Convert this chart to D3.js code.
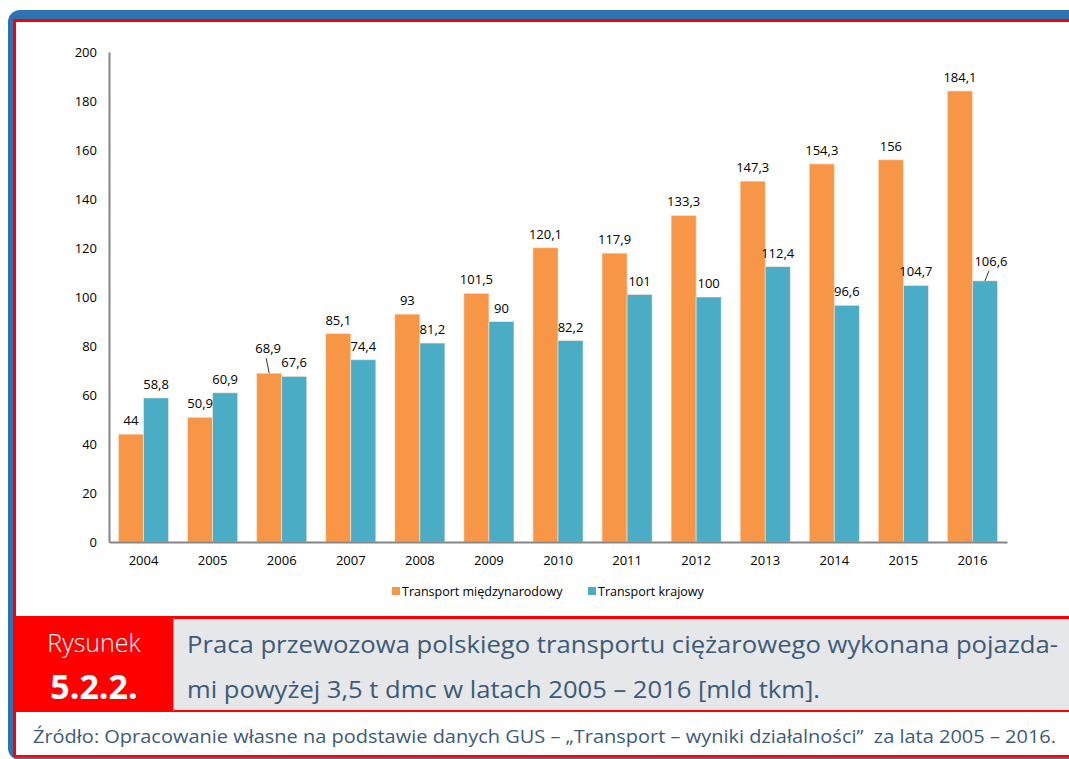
<!DOCTYPE html>
<html>
  <head>
    <meta charset="UTF-8">
    <style>
      body { margin: 0; background: #fff; }
      svg { display: block; }
      .tick text { font: 13px "Open Sans", sans-serif; fill: #000; }
      .lbl { font: 13px "Open Sans", sans-serif; fill: #000; text-anchor: middle; }
      .legend text { font: 12.5px "Open Sans", sans-serif; fill: #000; }
      .cap { font-family: "Open Sans", sans-serif; }
    </style>
    <script src="https://d3js.org/d3.v7.min.js"></script>
  </head>
  <body>
    <script type="text/javascript">
      // chart data
      var years = ["2004", "2005", "2006", "2007", "2008", "2009", "2010", "2011", "2012", "2013", "2014", "2015", "2016"];
      var seriesNames = ["Transport międzynarodowy", "Transport krajowy"];
      var intl = [44, 50.9, 68.9, 85.1, 93, 101.5, 120.1, 117.9, 133.3, 147.3, 154.3, 156, 184.1];
      var domestic = [58.8, 60.9, 67.6, 74.4, 81.2, 90, 82.2, 101, 100, 112.4, 96.6, 104.7, 106.6];
      var yTicks = [0, 20, 40, 60, 80, 100, 120, 140, 160, 180, 200];
      // labels moved off the bar with a leader line: [series index, year]
      var leaderLabels = [[0, "2006"], [1, "2016"]];

      var colors = ["#F79646", "#4BACC6"];
      var frameBlue = "#2E72B4", red = "#FF0000", capText = "#3C5B79";

      var width = 1069, height = 759;
      var svg = d3.select("body").append("svg")
        .attr("width", width)
        .attr("height", height);

      // frame: blue rounded border, red inner line, white page
      svg.append("rect").attr("x", 8).attr("y", 10).attr("width", 1100).attr("height", 750)
        .attr("rx", 12).attr("fill", frameBlue);
      svg.append("rect").attr("x", 13).attr("y", 19).attr("width", 1100).attr("height", 738)
        .attr("fill", red);
      svg.append("rect").attr("x", 16).attr("y", 22).attr("width", 1100).attr("height", 733)
        .attr("fill", "#fff");

      // scales
      var x0 = d3.scaleBand().domain(years).range([109, 1007]).paddingInner(0.275).paddingOuter(0.1375);
      var x1 = d3.scaleBand().domain([0, 1]).range([0, x0.bandwidth()]);
      var y = d3.scaleLinear().domain([0, 200]).range([542, 52]);

      var fmt = d3.formatLocale({decimal: ",", thousands: " ", grouping: [3], currency: ["", " zł"]}).format("~f");

      var g = svg.append("g");

      // bars
      var table = years.map(function(yr, i) { return {year: yr, values: [intl[i], domestic[i]]}; });
      var grp = g.selectAll(".yr").data(table).enter().append("g")
        .attr("transform", function(d) { return "translate(" + x0(d.year) + ",0)"; });

      grp.selectAll("rect").data(function(d) { return d.values.map(function(v, s) { return {s: s, v: v, year: d.year}; }); })
        .enter().append("rect")
        .attr("x", function(d) { return x1(d.s); })
        .attr("y", function(d) { return y(d.v); })
        .attr("width", x1.bandwidth())
        .attr("height", function(d) { return y(0) - y(d.v); })
        .attr("fill", function(d) { return colors[d.s]; })
        .attr("stroke", "#fde9d9")
        .attr("stroke-opacity", 0.7)
        .attr("stroke-width", 0.8);

      // value labels
      grp.selectAll("text").data(function(d) { return d.values.map(function(v, s) { return {s: s, v: v, year: d.year}; }); })
        .enter().each(function(d) {
          var sel = d3.select(this);
          var cx = x1(d.s) + x1.bandwidth() / 2;
          var top = y(d.v);
          var moved = leaderLabels.some(function(l) { return l[0] === d.s && l[1] === d.year; });
          var dx = moved ? (d.s === 1 ? 6 : -1) : 0;
          var lift = moved ? (d.s === 1 ? 6 : 11) : 0;
          sel.append("text").attr("class", "lbl")
            .attr("x", cx + dx)
            .attr("y", top - 9 - lift)
            .text(fmt(d.v));
          if (moved) {
            sel.append("line")
              .attr("x1", cx + dx - 2).attr("y1", top - 6 - lift + 2)
              .attr("x2", cx).attr("y2", top)
              .attr("stroke", "#000").attr("stroke-width", 0.8);
          }
        });

      // axes
      var yAxis = g.append("g").attr("transform", "translate(109,0)")
        .call(d3.axisLeft(y).tickValues(yTicks).tickSize(0).tickPadding(12));
      yAxis.select(".domain").attr("stroke", "#868686").attr("stroke-width", 2);
      yAxis.selectAll(".tick text").attr("dy", "0.35em");

      var xAxis = g.append("g").attr("transform", "translate(0,542)")
        .call(d3.axisBottom(x0).tickSize(0).tickPadding(14).tickSizeOuter(0));
      xAxis.select(".domain").attr("stroke", "#868686").attr("stroke-width", 2);

      // legend
      var legend = svg.append("g").attr("class", "legend");
      var legX = [392, 588];
      seriesNames.forEach(function(name, i) {
        legend.append("rect").attr("x", legX[i]).attr("y", 587).attr("width", 8).attr("height", 8).attr("fill", colors[i]);
        legend.append("text").attr("x", legX[i] + 10).attr("y", 595.5).text(name);
      });

      // caption block
      svg.append("rect").attr("x", 13).attr("y", 616).attr("width", 1100).attr("height", 3).attr("fill", red);
      svg.append("rect").attr("x", 16).attr("y", 618).attr("width", 157).attr("height", 94).attr("fill", red);
      svg.append("rect").attr("x", 174).attr("y", 619).attr("width", 900).attr("height", 91).attr("fill", "#E6E7E9");
      svg.append("rect").attr("x", 16).attr("y", 710).attr("width", 1100).attr("height", 2).attr("fill", red);
      svg.append("rect").attr("x", 173).attr("y", 618).attr("width", 1).attr("height", 93).attr("fill", "#f08080");

      svg.append("text").attr("class", "cap").attr("x", 94).attr("y", 652)
        .attr("text-anchor", "middle").attr("fill", "#fff").style("font-size", "25px").style("font-weight", 300)
        .text("Rysunek");
      svg.append("text").attr("class", "cap").attr("x", 94).attr("y", 699)
        .attr("text-anchor", "middle").attr("fill", "#fff").style("font-size", "34px").style("font-weight", 700)
        .text("5.2.2.");

      svg.append("text").attr("class", "cap").attr("x", 187).attr("y", 653)
        .attr("fill", capText).style("font-size", "24px")
        .attr("textLength", 871).attr("lengthAdjust", "spacingAndGlyphs")
        .text("Praca przewozowa polskiego transportu ciężarowego wykonana pojazda-");
      svg.append("text").attr("class", "cap").attr("x", 187).attr("y", 698)
        .attr("fill", capText).style("font-size", "24px")
        .attr("textLength", 633).attr("lengthAdjust", "spacingAndGlyphs")
        .text("mi powyżej 3,5 t dmc w latach 2005 – 2016 [mld tkm].");

      svg.append("text").attr("class", "cap").attr("x", 33).attr("y", 743)
        .attr("fill", capText).style("font-size", "19px")
        .attr("textLength", 1023).attr("lengthAdjust", "spacingAndGlyphs")
        .text("Źródło: Opracowanie własne na podstawie danych GUS – „Transport – wyniki działalności”\u00a0 za lata 2005 – 2016.");
    </script>
  </body>
</html>
